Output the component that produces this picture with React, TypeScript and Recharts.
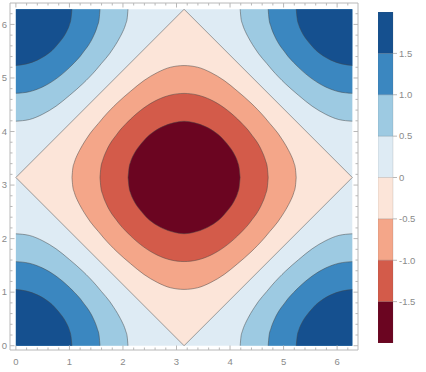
import React from "react";
import { Area, Bar, BarChart, ComposedChart, XAxis, YAxis } from "recharts";

const PI = 3.1416;
const TWO_PI = 6.2832;

// contour profiles: half-height g at distance u from a corner / the centre
const OUTER_U = [0, 0.25, 0.5, 0.75, 1.0, 1.25, 1.5, 1.6, 1.75, 1.825, 1.9, 1.95, 2.0, 2.03, 2.05, 2.08, 2.094];
const OUTER_G = [2.09, 2.06, 1.96, 1.81, 1.61, 1.39, 1.13, 1.01, 0.83, 0.72, 0.6, 0.51, 0.41, 0.34, 0.28, 0.16, 0];
const MIDDLE_U = [0, 0.25, 0.5, 0.75, 1.0, 1.1, 1.2, 1.275, 1.35, 1.45, 1.52, 1.555, 1.571];
const MIDDLE_G = [1.57, 1.54, 1.45, 1.3, 1.09, 0.99, 0.88, 0.78, 0.68, 0.5, 0.32, 0.18, 0];
const INNER_U = [0, 0.2, 0.4, 0.6, 0.675, 0.75, 0.85, 0.9, 0.95, 1.0, 1.03, 1.047];
const INNER_G = [1.05, 1.02, 0.95, 0.83, 0.77, 0.69, 0.57, 0.5, 0.41, 0.29, 0.17, 0];

const LEVELS = [-2, -1.5, -1, -0.5, 0, 0.5, 1, 1.5, 2];
const BAND_COLORS = ["#6b0521", "#d35b4a", "#f4a689", "#fce5d9", "#deebf4", "#9dcae2", "#3b87c0", "#15508f"];
const COLORBAR_TICKS = [-1.5, -1, -0.5, 0, 0.5, 1, 1.5];
const AXIS_TICKS = Array.from({ length: 32 }, (_, i) => (i * 2) / 10);

const X_DOMAIN = [-0.11, 6.39];
const Y_DOMAIN = [-0.08, 6.4];
const FRAME = "#b8b8b8";
const LABEL = "#8a8a8a";
const CONTOUR = "rgba(70,70,70,0.55)";

type Pt = { x: number; v: number | [number, number] };
type Series = { key: string; fill: string; pts: Pt[]; base?: number; curve: "linear" | "monotone"; stroke: boolean };

const profiles = [
  { u: OUTER_U, g: OUTER_G, inside: 2, corner: 5 },
  { u: MIDDLE_U, g: MIDDLE_G, inside: 1, corner: 6 },
  { u: INNER_U, g: INNER_G, inside: 0, corner: 7 },
];

const series: Series[] = [
  {
    key: "bg",
    fill: BAND_COLORS[4],
    curve: "linear",
    stroke: false,
    pts: [
      { x: 0, v: [0, TWO_PI] },
      { x: TWO_PI, v: [0, TWO_PI] },
    ],
  },
  {
    key: "diamond",
    fill: BAND_COLORS[3],
    curve: "linear",
    stroke: true,
    pts: [
      { x: 0, v: [PI, PI] },
      { x: PI, v: [0, TWO_PI] },
      { x: TWO_PI, v: [PI, PI] },
    ],
  },
];

profiles.forEach((p, k) => {
  const centre: Pt[] = [];
  for (let i = p.u.length - 1; i >= 0; i--) centre.push({ x: PI - p.u[i], v: [PI - p.g[i], PI + p.g[i]] });
  for (let i = 1; i < p.u.length; i++) centre.push({ x: PI + p.u[i], v: [PI - p.g[i], PI + p.g[i]] });
  series.push({ key: `c${k}`, fill: BAND_COLORS[p.inside], curve: "monotone", stroke: true, pts: centre });
});

profiles.forEach((p, k) => {
  const fill = BAND_COLORS[p.corner];
  series.push({ key: `bl${k}`, fill, curve: "monotone", stroke: true, base: 0, pts: p.u.map((u, i) => ({ x: u, v: p.g[i] })) });
  series.push({ key: `tl${k}`, fill, curve: "monotone", stroke: true, base: TWO_PI, pts: p.u.map((u, i) => ({ x: u, v: TWO_PI - p.g[i] })) });
  series.push({ key: `br${k}`, fill, curve: "monotone", stroke: true, base: 0, pts: p.u.map((u, i) => ({ x: TWO_PI - u, v: p.g[i] })) });
  series.push({ key: `tr${k}`, fill, curve: "monotone", stroke: true, base: TWO_PI, pts: p.u.map((u, i) => ({ x: TWO_PI - u, v: TWO_PI - p.g[i] })) });
});

const rowMap = new Map<string, any>();
series.forEach((s) => {
  s.pts.forEach((pt) => {
    const id = pt.x.toFixed(4);
    if (!rowMap.has(id)) rowMap.set(id, { x: pt.x });
    rowMap.get(id)[s.key] = pt.v;
  });
});
const tableData = Array.from(rowMap.values()).sort((a, b) => a.x - b.x);

// colour bar: one stacked column, positive bands up from 0 and negative ones down
const bandOrder = [4, 5, 6, 7, 3, 2, 1, 0];
const barRow: any = { name: "bar" };
bandOrder.forEach((b) => {
  const lo = LEVELS[b];
  const hi = LEVELS[b + 1];
  barRow[`b${b}`] = hi > 0 ? hi - lo : lo - hi;
});

function frameTick(side: "bottom" | "top" | "left" | "right") {
  return (p: any) => {
    const v = p.payload.value;
    const major = Math.abs(v - Math.round(v)) < 1e-6;
    const len = major ? 4.5 : 2.5;
    const { x, y } = p;
    if (side === "bottom")
      return (
        <g>
          <line x1={x} x2={x} y1={y} y2={y - len} stroke={FRAME} />
          {major && (
            <text x={x} y={y + 15} textAnchor="middle" fontSize={9.5} fill={LABEL}>
              {Math.round(v)}
            </text>
          )}
        </g>
      );
    if (side === "top") return <line x1={x} x2={x} y1={y} y2={y + len} stroke={FRAME} />;
    if (side === "right") return <line x1={x} x2={x - len} y1={y} y2={y} stroke={FRAME} />;
    return (
      <g>
        <line x1={x} x2={x + len} y1={y} y2={y} stroke={FRAME} />
        {major && (
          <text x={x - 3} y={y} dy="0.35em" textAnchor="end" fontSize={9.5} fill={LABEL}>
            {Math.round(v)}
          </text>
        )}
      </g>
    );
  };
}

export default function App() {
  return (
    <div
      style={{
        position: "absolute",
        left: 0,
        top: 0,
        width: 426,
        height: 372,
        background: "#fff",
        fontFamily: "'Liberation Sans', Arial, sans-serif",
      }}
    >
      <div style={{ position: "absolute", left: 0, top: 0 }}>
        <ComposedChart width={360} height={372} data={tableData} margin={{ top: 2, right: 1, bottom: 0, left: 0 }}>
          <XAxis
            xAxisId="b"
            dataKey="x"
            type="number"
            domain={X_DOMAIN}
            allowDataOverflow
            ticks={AXIS_TICKS}
            interval={0}
            height={22}
            tickSize={0}
            tickMargin={0}
            tickLine={false}
            stroke={FRAME}
            tick={frameTick("bottom")}
          />
          <XAxis
            xAxisId="t"
            orientation="top"
            dataKey="x"
            type="number"
            domain={X_DOMAIN}
            allowDataOverflow
            ticks={AXIS_TICKS}
            interval={0}
            height={1}
            tickSize={0}
            tickMargin={0}
            tickLine={false}
            stroke={FRAME}
            tick={frameTick("top")}
          />
          <YAxis
            yAxisId="l"
            type="number"
            domain={Y_DOMAIN}
            allowDataOverflow
            ticks={AXIS_TICKS}
            interval={0}
            width={10}
            tickSize={0}
            tickMargin={0}
            tickLine={false}
            stroke={FRAME}
            tick={frameTick("left")}
          />
          <YAxis
            yAxisId="r"
            orientation="right"
            type="number"
            domain={Y_DOMAIN}
            allowDataOverflow
            ticks={AXIS_TICKS}
            interval={0}
            width={1}
            tickSize={0}
            tickMargin={0}
            tickLine={false}
            stroke={FRAME}
            tick={frameTick("right")}
          />
          {series.map((s) => (
            <Area
              key={s.key}
              xAxisId="b"
              yAxisId="l"
              dataKey={s.key}
              type={s.curve}
              fill={s.fill}
              fillOpacity={1}
              stroke={s.stroke ? CONTOUR : "none"}
              strokeWidth={0.9}
              baseValue={s.base}
              connectNulls
              dot={false}
              activeDot={false}
              isAnimationActive={false}
            />
          ))}
        </ComposedChart>
      </div>
      <div style={{ position: "absolute", left: 378, top: 0 }}>
        <BarChart
          width={48}
          height={372}
          data={[barRow]}
          stackOffset="sign"
          barCategoryGap={0}
          margin={{ top: 12, right: 0, bottom: 29, left: 0 }}
        >
          <XAxis dataKey="name" hide />
          <YAxis
            orientation="right"
            type="number"
            domain={[-2, 2]}
            allowDataOverflow
            ticks={COLORBAR_TICKS}
            interval={0}
            width={33}
            axisLine={false}
            tickSize={4}
            tickMargin={2}
            tickLine={{ stroke: FRAME }}
            tick={{ fontSize: 9.5, fill: LABEL }}
            tickFormatter={(v: number) => (v === 0 ? "0" : v.toFixed(1))}
          />
          {bandOrder.map((b) => (
            <Bar
              key={b}
              dataKey={`b${b}`}
              stackId="bar"
              fill={BAND_COLORS[b]}
              stroke="rgba(90,90,90,0.25)"
              strokeWidth={0.6}
              isAnimationActive={false}
            />
          ))}
        </BarChart>
      </div>
    </div>
  );
}
